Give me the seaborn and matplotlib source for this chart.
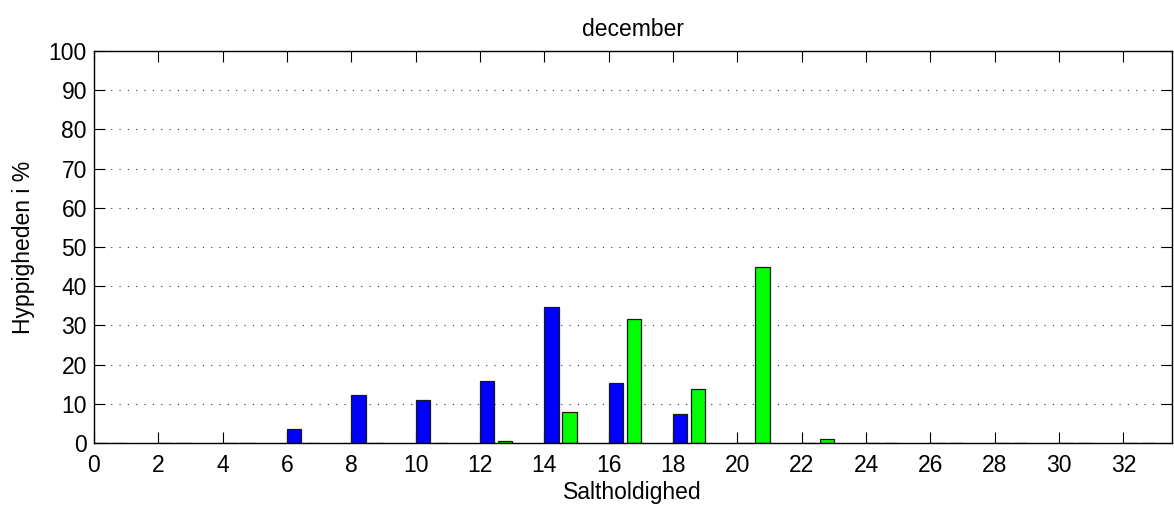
import numpy as np
import pandas as pd
import matplotlib
matplotlib.use("Agg")
import matplotlib.pyplot as plt
import seaborn as sns

# group centres (salinity bins) and frequency in % for the two series
salt = [0.5, 2.5, 4.5, 6.5, 8.5, 10.5, 12.5, 14.5, 16.5, 18.5, 20.5, 22.5, 24.5, 26.5, 28.5, 30.5, 32.5]
blue_vals = [0, 0, 0, 3.5, 12.2, 11.0, 15.8, 34.7, 15.3, 7.4, 0, 0, 0, 0, 0, 0, 0]
green_vals = [0, 0, 0, 0, 0, 0, 0.5, 7.9, 31.6, 13.7, 44.9, 1.1, 0, 0, 0, 0, 0]
series_names = ["A", "B"]
x_ticks = list(range(0, 33, 2))
y_ticks = list(range(0, 101, 10))

sns.set_theme(style="white", rc={"text.color": "black", "axes.labelcolor": "black"})
plt.rcParams["font.family"] = ["Liberation Sans", "DejaVu Sans"]

df = pd.DataFrame({
    "salt": salt * 2,
    "series": [series_names[0]] * len(salt) + [series_names[1]] * len(salt),
    "value": blue_vals + green_vals,
})

fig = plt.figure(figsize=(11.74, 5.11), dpi=100)
ax = fig.add_axes([0.080, 0.133, 0.918, 0.767])

sns.barplot(data=df, x="salt", y="value", hue="series", native_scale=True,
            width=0.56, gap=0.2, palette=["#0000ff", "#00ff00"], saturation=1,
            edgecolor="#1a1a1a", linewidth=0.9, legend=False, ax=ax,
            errorbar=None)

ax.set_xlim(0, 33.5)
ax.set_ylim(0, 100)
ax.set_xticks(x_ticks)
ax.set_yticks(y_ticks)
ax.yaxis.grid(True, color="#333333", linestyle=(0, (1, 6.5)), linewidth=0.8)
ax.xaxis.grid(False)
ax.set_axisbelow(True)

for s in ax.spines.values():
    s.set_visible(True)
    s.set_color("black")
    s.set_linewidth(1.0)

ax.tick_params(direction="in", length=8, width=0.8, top=True, right=True,
               bottom=True, left=True, labelsize=16.5, colors="black")
ax.tick_params(axis="y", pad=5)
ax.tick_params(axis="x", pad=8)

ax.set_title("december", fontsize=16.5, pad=11, color="black")
ax.set_xlabel("Saltholdighed", fontsize=16.5, labelpad=3)
ax.set_ylabel("Hyppigheden i %", fontsize=16.5, labelpad=10)

fig.savefig("out.png", dpi=100)
